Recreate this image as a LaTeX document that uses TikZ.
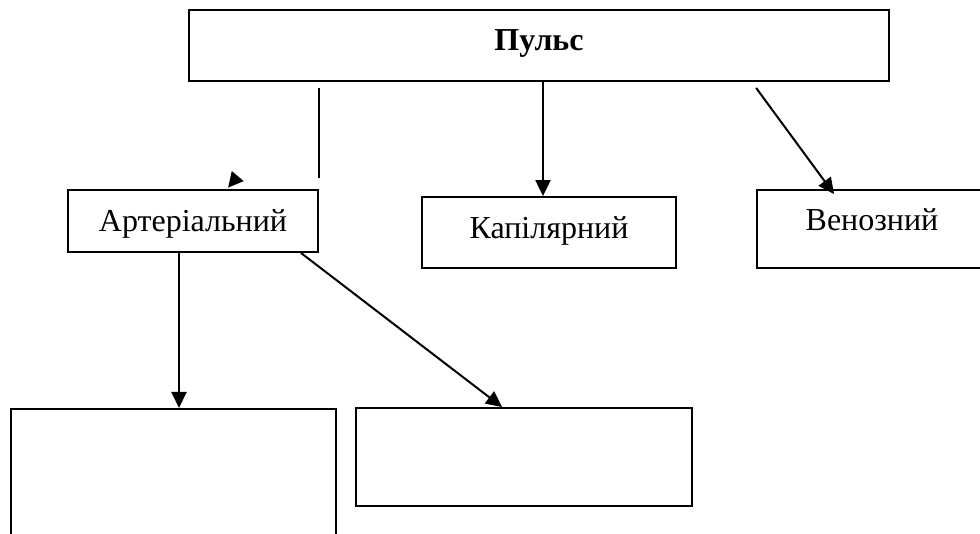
\documentclass[tikz,border=0pt]{standalone}
\usepackage{fontspec}
\setmainfont{Liberation Serif}
\usetikzlibrary{arrows.meta}

\begin{document}
\begin{tikzpicture}[x=1pt,y=-1pt,
  box/.style={draw,line width=1.8pt,inner sep=0pt,font=\fontsize{32}{38}\selectfont,text height=22pt},
  arr/.style={line width=2pt,-{Triangle[length=16pt,width=15pt]}}]
\useasboundingbox (0,0) rectangle (980,534);
\clip (0,0) rectangle (980,534);
\node[box,minimum width=700pt,minimum height=71pt,text depth=11.8pt,font=\fontsize{32}{38}\selectfont\bfseries] (puls) at (539,45.5) {Пульс};
\node[box,minimum width=250pt,minimum height=62pt,text depth=1pt] (art) at (193,221) {Артеріальний};
\node[box,minimum width=254pt,minimum height=71pt,text depth=10.8pt] (kap) at (549,232.5) {Капілярний};
\node[box,minimum width=230pt,minimum height=78pt,text depth=18.8pt] (ven) at (872,229) {Венозний};
\node[box,minimum width=325pt,minimum height=160pt,anchor=north] (type1) at (173.5,408) {};
\node[box,minimum width=336pt,minimum height=98pt] (type2) at (524,457) {};
% line without head, and the head on its own
\draw[line width=2pt] ([yshift=-6pt]puls.south -| art.north east) -- ([yshift=11pt]art.north east);
\draw[arr,-{Triangle[length=15pt,width=15pt]}] ([shift={(170.5,-12.8)}]art.north west) -- ([shift={(161,-1.5)}]art.north west);
\draw[arr] ([xshift=-6pt]kap.north |- puls.south) -- ([xshift=-6pt]kap.north);
\draw[arr] ([shift={(568,6)}]puls.south west) -- ([shift={(78,5)}]ven.north west);
\draw[arr] ([xshift=-14pt]art.south) -- ([xshift=-14pt]art.south |- type1.north);
\draw[arr] ([xshift=-18pt]art.south east) -- ([xshift=147pt]type2.north west);
\end{tikzpicture}
\end{document}
